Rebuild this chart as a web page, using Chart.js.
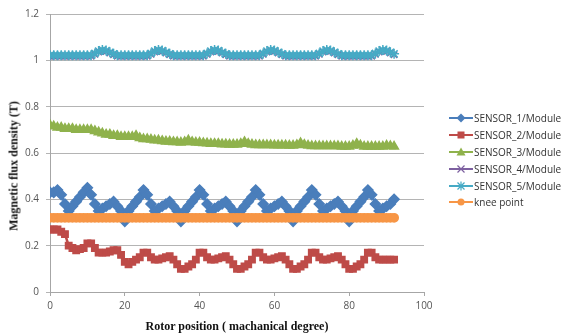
<!DOCTYPE html>
<html>
<head>
<meta charset="utf-8">
<script src="https://cdn.jsdelivr.net/npm/chart.js@4/dist/chart.umd.min.js"></script>
<style>
  html, body { margin: 0; padding: 0; background: #fff; }
  #wrap { position: relative; width: 564px; height: 336px; overflow: hidden; }
  #c { position: absolute; left: 0; top: 0; }
  .ytitle { position: absolute; left: 14px; top: 166px; transform: translate(-50%, -50%) rotate(-90deg);
    font: bold 12px "Liberation Serif", serif; color: #111; white-space: nowrap; }
  .xtitle { position: absolute; left: 237px; top: 326px; transform: translate(-50%, -50%);
    font: bold 12px "Liberation Serif", serif; color: #111; white-space: nowrap; }
  #legend { position: absolute; left: 449px; top: 110px; font: 10px "Open Sans", sans-serif; color: #333; }
  .li { height: 16.8px; display: flex; align-items: center; white-space: nowrap; }
  .li svg { width: 24px; height: 10px; margin-right: 1px; flex: none; }
</style>
</head>
<body>
<div id="wrap">
  <canvas id="c" width="564" height="336"></canvas>
  <div class="ytitle">Magnetic flux density (T)</div>
  <div class="xtitle">Rotor position ( machanical degree)</div>
  <div id="legend"></div>
</div>
<script>
const seriesNames = ["SENSOR_1/Module", "SENSOR_2/Module", "SENSOR_3/Module", "SENSOR_4/Module", "SENSOR_5/Module", "knee point"];
const xTicks = [0, 20, 40, 60, 80, 100];
const yTicks = [0, 0.2, 0.4, 0.6, 0.8, 1, 1.2];

const rotorDeg = [
  0,1,2,3,4,5,6,7,8,9,
  10,11,12,13,14,15,16,17,18,19,
  20,21,22,23,24,25,26,27,28,29,
  30,31,32,33,34,35,36,37,38,39,
  40,41,42,43,44,45,46,47,48,49,
  50,51,52,53,54,55,56,57,58,59,
  60,61,62,63,64,65,66,67,68,69,
  70,71,72,73,74,75,76,77,78,79,
  80,81,82,83,84,85,86,87,88,89,
  90,91,92
];

const sensor1 = [
  0.43,0.43,0.44,0.42,0.38,0.35,0.37,0.39,0.41,0.43,
  0.45,0.42,0.38,0.35,0.36,0.37,0.38,0.39,0.37,0.35,
  0.305,0.35,0.37,0.39,0.41,0.44,0.42,0.38,0.35,0.36,
  0.37,0.38,0.39,0.37,0.35,0.305,0.35,0.37,0.39,0.41,
  0.44,0.42,0.38,0.35,0.36,0.37,0.38,0.39,0.37,0.35,
  0.305,0.35,0.37,0.39,0.41,0.44,0.42,0.38,0.35,0.36,
  0.37,0.38,0.39,0.37,0.35,0.305,0.35,0.37,0.39,0.41,
  0.44,0.42,0.38,0.35,0.36,0.37,0.38,0.39,0.37,0.35,
  0.305,0.35,0.37,0.39,0.41,0.44,0.42,0.38,0.35,0.36,
  0.37,0.38,0.40
];

const sensor2 = [
  0.27,0.27,0.27,0.26,0.25,0.20,0.19,0.18,0.185,0.19,
  0.21,0.21,0.19,0.17,0.17,0.17,0.175,0.18,0.18,0.16,
  0.13,0.12,0.13,0.14,0.15,0.17,0.17,0.15,0.14,0.14,
  0.145,0.15,0.155,0.14,0.12,0.10,0.10,0.11,0.12,0.14,
  0.17,0.17,0.15,0.14,0.14,0.145,0.15,0.155,0.14,0.12,
  0.10,0.10,0.11,0.12,0.14,0.17,0.17,0.15,0.14,0.14,
  0.145,0.15,0.155,0.14,0.12,0.10,0.10,0.11,0.12,0.14,
  0.17,0.17,0.15,0.14,0.14,0.145,0.15,0.155,0.14,0.12,
  0.10,0.10,0.11,0.12,0.14,0.17,0.17,0.15,0.14,0.14,
  0.14,0.14,0.14
];

const sensor3 = [
  0.72,0.715,0.71,0.71,0.705,0.705,0.705,0.70,0.70,0.70,
  0.70,0.70,0.695,0.69,0.685,0.68,0.68,0.675,0.675,0.67,
  0.67,0.67,0.67,0.675,0.665,0.66,0.66,0.658,0.655,0.655,
  0.652,0.65,0.65,0.648,0.647,0.645,0.648,0.655,0.648,0.645,
  0.645,0.643,0.642,0.64,0.64,0.64,0.638,0.638,0.637,0.637,
  0.637,0.64,0.648,0.64,0.637,0.635,0.635,0.635,0.634,0.634,
  0.633,0.633,0.633,0.633,0.632,0.632,0.635,0.643,0.636,0.632,
  0.63,0.63,0.63,0.63,0.63,0.63,0.63,0.63,0.628,0.628,
  0.628,0.632,0.64,0.633,0.628,0.628,0.628,0.628,0.628,0.628,
  0.632,0.63,0.628
];

const sensor4 = [
  1.018,1.018,1.018,1.018,1.018,1.018,1.018,1.018,1.018,1.018,
  1.018,1.018,1.026,1.036,1.041,1.038,1.031,1.024,1.018,1.018,
  1.018,1.018,1.018,1.018,1.018,1.018,1.018,1.026,1.036,1.041,
  1.038,1.031,1.024,1.018,1.018,1.018,1.018,1.018,1.018,1.018,
  1.018,1.018,1.026,1.036,1.041,1.038,1.031,1.024,1.018,1.018,
  1.018,1.018,1.018,1.018,1.018,1.018,1.018,1.026,1.036,1.041,
  1.038,1.031,1.024,1.018,1.018,1.018,1.018,1.018,1.018,1.018,
  1.018,1.018,1.026,1.036,1.041,1.038,1.031,1.024,1.018,1.018,
  1.018,1.018,1.018,1.018,1.018,1.018,1.018,1.026,1.036,1.041,
  1.038,1.031,1.024
];

const sensor5 = [
  1.022,1.022,1.022,1.022,1.022,1.022,1.022,1.022,1.022,1.022,
  1.022,1.022,1.03,1.04,1.045,1.042,1.035,1.028,1.022,1.022,
  1.022,1.022,1.022,1.022,1.022,1.022,1.022,1.03,1.04,1.045,
  1.042,1.035,1.028,1.022,1.022,1.022,1.022,1.022,1.022,1.022,
  1.022,1.022,1.03,1.04,1.045,1.042,1.035,1.028,1.022,1.022,
  1.022,1.022,1.022,1.022,1.022,1.022,1.022,1.03,1.04,1.045,
  1.042,1.035,1.028,1.022,1.022,1.022,1.022,1.022,1.022,1.022,
  1.022,1.022,1.03,1.04,1.045,1.042,1.035,1.028,1.022,1.022,
  1.022,1.022,1.022,1.022,1.022,1.022,1.022,1.03,1.04,1.045,
  1.042,1.035,1.028
];

const kneePoint = [
  0.32,0.32,0.32,0.32,0.32,0.32,0.32,0.32,0.32,0.32,
  0.32,0.32,0.32,0.32,0.32,0.32,0.32,0.32,0.32,0.32,
  0.32,0.32,0.32,0.32,0.32,0.32,0.32,0.32,0.32,0.32,
  0.32,0.32,0.32,0.32,0.32,0.32,0.32,0.32,0.32,0.32,
  0.32,0.32,0.32,0.32,0.32,0.32,0.32,0.32,0.32,0.32,
  0.32,0.32,0.32,0.32,0.32,0.32,0.32,0.32,0.32,0.32,
  0.32,0.32,0.32,0.32,0.32,0.32,0.32,0.32,0.32,0.32,
  0.32,0.32,0.32,0.32,0.32,0.32,0.32,0.32,0.32,0.32,
  0.32,0.32,0.32,0.32,0.32,0.32,0.32,0.32,0.32,0.32,
  0.32,0.32,0.32
];

const allSeries = [sensor1, sensor2, sensor3, sensor4, sensor5, kneePoint];
const colors = ["#4a7ebb", "#be4b48", "#8fb24c", "#7d60a0", "#46aac5", "#f79646"];
const pStyles = ["rectRot", "rect", "triangle", "crossRot", "star", "circle"];
const pRadius = [5, 4.5, 5, 4.5, 5, 4.2];

const datasets = allSeries.map((vals, i) => ({
  label: seriesNames[i],
  data: vals.map((v, k) => ({ x: rotorDeg[k], y: v })),
  borderColor: colors[i],
  backgroundColor: colors[i],
  pointBackgroundColor: colors[i],
  pointBorderColor: colors[i],
  pointStyle: pStyles[i],
  pointRadius: pRadius[i],
  pointBorderWidth: 1.5,
  borderWidth: 2.5,
  tension: 0,
  order: 5 - i
}));

new Chart(document.getElementById("c"), {
  type: "line",
  data: { datasets },
  options: {
    responsive: false,
    animation: false,
    events: [],
    layout: { padding: { top: 14, right: 140, left: 0, bottom: 0 } },
    plugins: { legend: { display: false }, tooltip: { enabled: false } },
    scales: {
      x: {
        type: "linear", min: 0, max: 100,
        afterBuildTicks: (s) => { s.ticks = xTicks.map(v => ({ value: v })); },
        afterFit: (s) => { s.height = 44; },
        grid: { drawOnChartArea: false, drawTicks: true, tickLength: 4, color: "#a6a6a6" },
        border: { color: "#a6a6a6", width: 1 },
        ticks: { padding: 4, color: "#555", font: { family: "Open Sans", size: 10 }, maxRotation: 0 }
      },
      y: {
        min: 0, max: 1.2,
        afterBuildTicks: (s) => { s.ticks = yTicks.map(v => ({ value: v })); },
        afterFit: (s) => { s.width = 50; },
        grid: { drawTicks: true, tickLength: 4, color: "#b4b4b4" },
        border: { color: "#a6a6a6", width: 1 },
        ticks: { padding: 7, color: "#555", font: { family: "Open Sans", size: 10 },
          callback: (v) => String(v) }
      }
    }
  }
});

// HTML legend
const symbolSvg = (i) => {
  const c = colors[i];
  let m = "";
  if (pStyles[i] === "rectRot") m = `<polygon points="12,0.5 16.5,5 12,9.5 7.5,5" fill="${c}"/>`;
  else if (pStyles[i] === "rect") m = `<rect x="8.5" y="1.5" width="7" height="7" fill="${c}"/>`;
  else if (pStyles[i] === "triangle") m = `<polygon points="12,0.5 16.5,8.5 7.5,8.5" fill="${c}"/>`;
  else if (pStyles[i] === "crossRot") m = `<path d="M8.5 1.5 L15.5 8.5 M15.5 1.5 L8.5 8.5" stroke="${c}" stroke-width="1.2"/>`;
  else if (pStyles[i] === "star") m = `<path d="M8.5 1.5 L15.5 8.5 M15.5 1.5 L8.5 8.5 M12 0.5 L12 9.5 M7.5 5 L16.5 5" stroke="${c}" stroke-width="1.2"/>`;
  else m = `<circle cx="12" cy="5" r="3.5" fill="${c}"/>`;
  return `<svg viewBox="0 0 24 10"><line x1="0" y1="5" x2="24" y2="5" stroke="${c}" stroke-width="2"/>${m}</svg>`;
};
document.getElementById("legend").innerHTML = seriesNames.map((n, i) =>
  `<div class="li">${symbolSvg(i)}<span>${n}</span></div>`).join("");
</script>
</body>
</html>
